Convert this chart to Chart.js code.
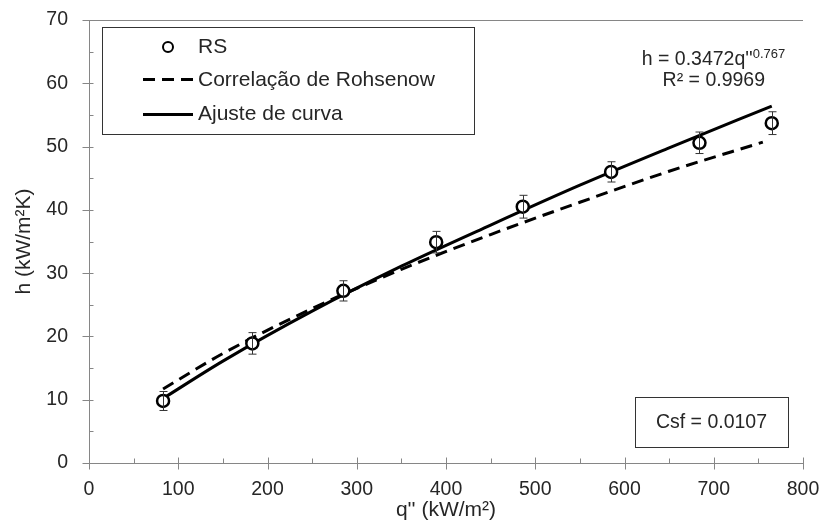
<!DOCTYPE html>
<html>
<head>
<meta charset="utf-8">
<script src="https://cdn.jsdelivr.net/npm/chart.js@4.4.0/dist/chart.umd.min.js"></script>
<style>
  html, body { margin: 0; padding: 0; background: #fff; }
  #wrap { width: 820px; height: 524px; position: relative; }
</style>
</head>
<body>
<div id="wrap"><canvas id="chart"></canvas></div>
<script>
// RS measurements with error bars
const qRS = [83, 183, 285, 389, 486, 585, 684, 765];
const hRS = [9.8, 18.9, 27.2, 34.9, 40.5, 46.0, 50.6, 53.7];
const errRS = [1.5, 1.7, 1.6, 1.7, 1.8, 1.6, 1.7, 1.8];

// Correlação de Rohsenow (dashed)
const qRohsenow = [83, 150, 250, 350, 450, 550, 650, 755];
const hRohsenow = [11.7, 17.3, 24.4, 30.6, 36.1, 41.2, 46.1, 50.7];

// Ajuste de curva (solid)
const qFit = [83, 150, 250, 350, 450, 550, 650, 765];
const hFit = [10.2, 16.1, 24.0, 31.1, 37.6, 43.9, 49.8, 56.4];

const xTicks = [0, 100, 200, 300, 400, 500, 600, 700, 800];
const yTicks = [0, 10, 20, 30, 40, 50, 60, 70];

const FONT = 'Liberation Sans, Arial, sans-serif';
const TEXT = '#262626';
const AXIS = '#868686';

const toPoints = (xs, ys) => xs.map((x, i) => ({ x: x, y: ys[i] }));

// error bars
const errorBars = {
    id: 'errorBars',
    afterDatasetsDraw(chart) {
        const { ctx, scales: { x, y } } = chart;
        ctx.save();
        ctx.strokeStyle = '#333';
        ctx.lineWidth = 1;
        qRS.forEach((q, i) => {
            const px = Math.round(x.getPixelForValue(q)) + 0.5;
            const top = y.getPixelForValue(hRS[i] + errRS[i]);
            const bot = y.getPixelForValue(hRS[i] - errRS[i]);
            ctx.beginPath();
            ctx.moveTo(px, top); ctx.lineTo(px, bot);
            ctx.moveTo(px - 4, top); ctx.lineTo(px + 4, top);
            ctx.moveTo(px - 4, bot); ctx.lineTo(px + 4, bot);
            ctx.stroke();
        });
        ctx.restore();
    }
};

// ticks, frame, legend and text boxes
const decorations = {
    id: 'decorations',
    afterDraw(chart) {
        const { ctx, chartArea: a, scales: { x, y } } = chart;
        ctx.save();

        // top border of plot area
        ctx.strokeStyle = AXIS;
        ctx.lineWidth = 1;
        ctx.beginPath();
        ctx.moveTo(a.left, Math.round(a.top) + 0.5);
        ctx.lineTo(a.right, Math.round(a.top) + 0.5);
        ctx.stroke();

        // major and minor ticks
        const ax = Math.round(a.left) + 0.5;
        const ay = Math.round(a.bottom) + 0.5;
        ctx.beginPath();
        xTicks.forEach((v, i) => {
            const px = Math.round(x.getPixelForValue(v)) + 0.5;
            ctx.moveTo(px, ay - 6); ctx.lineTo(px, ay + 6);
            if (i < xTicks.length - 1) {
                const mx = Math.round(x.getPixelForValue((v + xTicks[i + 1]) / 2)) + 0.5;
                ctx.moveTo(mx, ay - 5); ctx.lineTo(mx, ay);
            }
        });
        yTicks.forEach((v, i) => {
            const py = Math.round(y.getPixelForValue(v)) + 0.5;
            ctx.moveTo(ax - 7, py); ctx.lineTo(ax + 4, py);
            if (i < yTicks.length - 1) {
                const my = Math.round(y.getPixelForValue((v + yTicks[i + 1]) / 2)) + 0.5;
                ctx.moveTo(ax, my); ctx.lineTo(ax + 4, my);
            }
        });
        ctx.stroke();

        // legend
        ctx.strokeStyle = '#333';
        ctx.lineWidth = 1;
        ctx.strokeRect(102.5, 27.5, 372, 107);
        ctx.fillStyle = TEXT;
        ctx.font = '21px ' + FONT;
        ctx.textBaseline = 'middle';
        ctx.textAlign = 'left';
        ctx.fillText('RS', 198, 47);
        ctx.fillText('Correlação de Rohsenow', 198, 80);
        ctx.fillText('Ajuste de curva', 198, 114);

        ctx.strokeStyle = '#000';
        ctx.lineWidth = 2;
        ctx.beginPath();
        ctx.arc(168, 47, 5, 0, Math.PI * 2);
        ctx.stroke();

        ctx.lineWidth = 3;
        ctx.setLineDash([12, 7]);
        ctx.beginPath();
        ctx.moveTo(143, 79.5); ctx.lineTo(193, 79.5);
        ctx.stroke();
        ctx.setLineDash([]);
        ctx.beginPath();
        ctx.moveTo(143, 114.5); ctx.lineTo(193, 114.5);
        ctx.stroke();

        // fit equation
        ctx.fillStyle = TEXT;
        ctx.textBaseline = 'alphabetic';
        const main = 'h = 0.3472q\'\'';
        const sup = '0.767';
        ctx.font = '19.5px ' + FONT;
        const wMain = ctx.measureText(main).width;
        ctx.font = '13px ' + FONT;
        const wSup = ctx.measureText(sup).width;
        const start = 713.5 - (wMain + wSup) / 2;
        ctx.font = '19.5px ' + FONT;
        ctx.fillText(main, start, 65);
        ctx.font = '13px ' + FONT;
        ctx.fillText(sup, start + wMain, 58);
        ctx.font = '19.5px ' + FONT;
        ctx.textAlign = 'center';
        ctx.fillText('R² = 0.9969', 713.8, 86);

        // Csf box
        ctx.strokeStyle = '#333';
        ctx.lineWidth = 1;
        ctx.strokeRect(635.5, 397.5, 153, 50);
        ctx.textBaseline = 'middle';
        ctx.fillText('Csf = 0.0107', 711.5, 423);

        ctx.restore();
    }
};

new Chart(document.getElementById('chart'), {
    type: 'scatter',
    data: {
        datasets: [
            {
                label: 'RS',
                data: toPoints(qRS, hRS),
                showLine: false,
                pointStyle: 'circle',
                pointRadius: 6,
                pointBorderWidth: 2.5,
                pointBorderColor: '#000',
                pointBackgroundColor: '#fff'
            },
            {
                label: 'Ajuste de curva',
                data: toPoints(qFit, hFit),
                showLine: true,
                borderColor: '#000',
                borderWidth: 3,
                pointRadius: 0,
                cubicInterpolationMode: 'monotone'
            },
            {
                label: 'Correlação de Rohsenow',
                data: toPoints(qRohsenow, hRohsenow),
                showLine: true,
                borderColor: '#000',
                borderWidth: 3,
                borderDash: [12, 7],
                pointRadius: 0,
                cubicInterpolationMode: 'monotone'
            }
        ]
    },
    options: {
        responsive: true,
        maintainAspectRatio: false,
        animation: false,
        layout: { padding: { left: 0, right: 17, top: 20, bottom: 0 } },
        plugins: {
            legend: { display: false },
            tooltip: { enabled: false }
        },
        scales: {
            x: {
                type: 'linear',
                min: 0,
                max: 800,
                afterBuildTicks: s => { s.ticks = xTicks.map(v => ({ value: v })); },
                afterFit: s => { s.height = 61; s.paddingLeft = 0; s.paddingRight = 0; },
                grid: { display: false, drawTicks: false },
                border: { display: true, color: AXIS, width: 1 },
                ticks: { color: TEXT, font: { family: FONT, size: 19.5 }, padding: 15, maxRotation: 0 },
                title: { display: true, text: 'q\'\' (kW/m²)', color: TEXT,
                         font: { family: FONT, size: 21 }, padding: { top: 0, bottom: 1.5 } }
            },
            y: {
                type: 'linear',
                min: 0,
                max: 70,
                afterBuildTicks: s => { s.ticks = yTicks.map(v => ({ value: v })); },
                afterFit: s => { s.width = 89; s.paddingTop = 0; s.paddingBottom = 0; },
                grid: { display: false, drawTicks: false },
                border: { display: true, color: AXIS, width: 1 },
                ticks: { color: TEXT, font: { family: FONT, size: 19.5 }, padding: 21 },
                title: { display: true, text: 'h (kW/m²K)', color: TEXT,
                         font: { family: FONT, size: 21 }, padding: { top: 12, bottom: 0 } }
            }
        }
    },
    plugins: [errorBars, decorations]
});
</script>
</body>
</html>
